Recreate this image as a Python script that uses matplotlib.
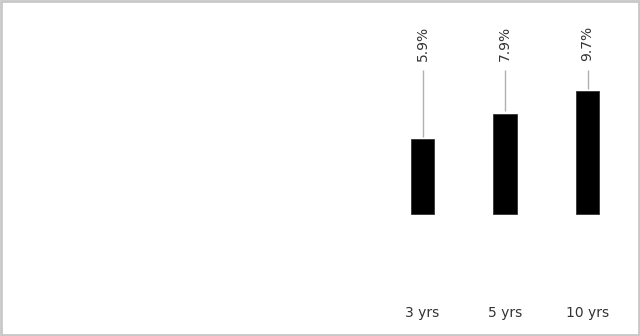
import matplotlib
matplotlib.use("Agg")
import matplotlib.pyplot as plt
from matplotlib.patches import Rectangle
import numpy as np

categories = ["3 yrs", "5 yrs", "10 yrs"]
values = [5.9, 7.9, 9.7]
value_labels = ["5.9%", "7.9%", "9.7%"]

plt.rcParams['font.family'] = ['DejaVu Sans']

fig = plt.figure(figsize=(6.4, 3.36), dpi=100)
ax = fig.add_axes([0, 0, 1, 1])
ax.set_xlim(-5.121, 2.636)
ax.set_ylim(-9.62, 16.88)
ax.axis('off')

x = np.arange(len(categories))
vals = np.array(values)
ax.bar(x, vals, width=0.28, color='black', edgecolor='#333333', linewidth=0.6, zorder=3)

line_top = 11.36
ax.vlines(x, vals + 0.2, line_top, color='#b0b0b0', linewidth=1.0, zorder=2)
for xi, lab in zip(x, value_labels):
    ax.text(xi, 12.1, lab, rotation=90, ha='center', va='bottom',
            fontsize=10, color='#333333')
for xi, cat in zip(x, categories):
    ax.text(xi, -7.8, cat, ha='center', va='center', fontsize=10, color='#333333')

fig.patches.append(Rectangle((0.0015, 0.0015), 0.997, 0.995, transform=fig.transFigure,
                             fill=False, edgecolor='#c8c8c8', linewidth=2.0))

fig.savefig("out.png", dpi=100)
